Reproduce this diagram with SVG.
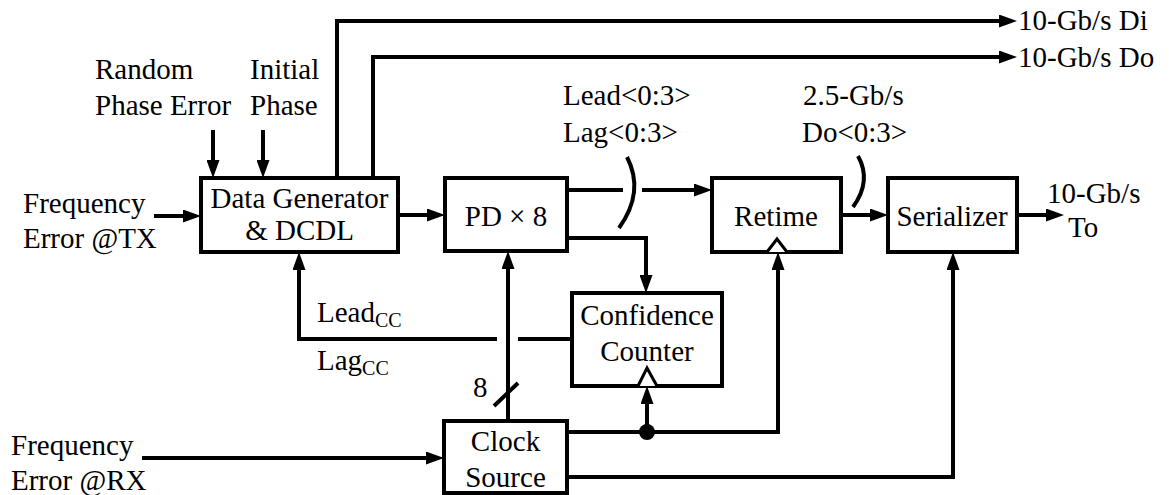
<svg xmlns="http://www.w3.org/2000/svg" width="1169" height="495" viewBox="0 0 1169 495">
<style>
.c{text-anchor:middle}
.sub{font-size:20px}
.box{fill:#fff;stroke:#000;stroke-width:4}
.w{fill:none;stroke:#000;stroke-width:4}
.a{marker-end:url(#ah)}
.clk{fill:#fff;stroke:#000;stroke-width:3;stroke-linejoin:miter}
</style>
<defs>
<marker id="ah" markerUnits="userSpaceOnUse" markerWidth="18" markerHeight="13" refX="11" refY="6.5" orient="auto">
<path d="M0,0 L18,6.5 L0,13 z" fill="#000"/>
</marker>
</defs>
<g id="connectors">
<path class="w a" d="M337,178 V21 H1010"/>
<path class="w a" d="M373,178 V57 H1010"/>
<path class="w a" d="M213,130 V171"/>
<path class="w a" d="M263,130 V171"/>
<path class="w a" d="M154,216 H194"/>
<path class="w a" d="M398,215 H438"/>
<path class="w" d="M567,190 H623"/>
<path class="w a" d="M642,190 H705"/>
<path class="w" d="M627,157 Q645,192 619,228"/>
<path class="w a" d="M567,238 H646 V286"/>
<path class="w a" d="M841,215 H881"/>
<path class="w" d="M858,156 Q872,181 853,207"/>
<path class="w a" d="M1017,215 H1057"/>
<path class="w" d="M572,339 H518"/>
<path class="w a" d="M497,339 H299 V259"/>
<path class="w a" d="M508,421 V258"/>
<path class="w" d="M494,406 L518,383"/>
<path class="w a" d="M567,432 H778 V259"/>
<path class="w a" d="M647,432 V393"/>
<circle cx="647" cy="432" r="8" fill="#000"/>
<path class="w a" d="M567,477 H953 V259"/>
<path class="w a" d="M142,458 H437"/>
</g>
<g font-family="Liberation Serif, Times New Roman, Times, serif" font-size="29" fill="#000">
<g id="labels">
<text x="95" y="79">Random</text>
<text x="95" y="115">Phase Error</text>
<text x="250" y="79">Initial</text>
<text x="250" y="115">Phase</text>
<text x="23" y="213">Frequency</text>
<text x="23" y="248">Error @TX</text>
<text x="11" y="455">Frequency</text>
<text x="11" y="490">Error @RX</text>
<text x="563" y="105">Lead&lt;0:3&gt;</text>
<text x="563" y="142">Lag&lt;0:3&gt;</text>
<text x="803" y="105">2.5-Gb/s</text>
<text x="802" y="142">Do&lt;0:3&gt;</text>
<text x="1018" y="30">10-Gb/s Di</text>
<text x="1018" y="67">10-Gb/s Do</text>
<text x="1047" y="203">10-Gb/s</text>
<text x="1068" y="237">To</text>
<text x="317" y="322">Lead<tspan class="sub" dy="5">CC</tspan></text>
<text x="317" y="370">Lag<tspan class="sub" dy="5">CC</tspan></text>
<text x="473" y="397">8</text>
</g>
<g id="dg">
<rect class="box" x="201" y="178" width="197" height="74"/>
<text class="c" x="299.5" y="208">Data Generator</text>
<text class="c" x="299.5" y="240">&amp; DCDL</text>
</g>
<g id="pd">
<rect class="box" x="445" y="178" width="122" height="73"/>
<text class="c" x="506" y="226">PD × 8</text>
</g>
<g id="retime">
<rect class="box" x="712" y="178" width="129" height="74"/>
<text class="c" x="776" y="226">Retime</text>
<path class="clk" d="M767,252 L777,239 L787,252"/>
</g>
<g id="serializer">
<rect class="box" x="888" y="178" width="129" height="74"/>
<text class="c" x="952" y="226">Serializer</text>
</g>
<g id="cc">
<rect class="box" x="572" y="293" width="150" height="93"/>
<text class="c" x="647" y="325">Confidence</text>
<text class="c" x="647" y="361">Counter</text>
<path class="clk" d="M638,386 L647,368 L657,386"/>
</g>
<g id="clock">
<rect class="box" x="444" y="421" width="123" height="72"/>
<text class="c" x="505.5" y="451">Clock</text>
<text class="c" x="505.5" y="487">Source</text>
</g>
</g>
</svg>
